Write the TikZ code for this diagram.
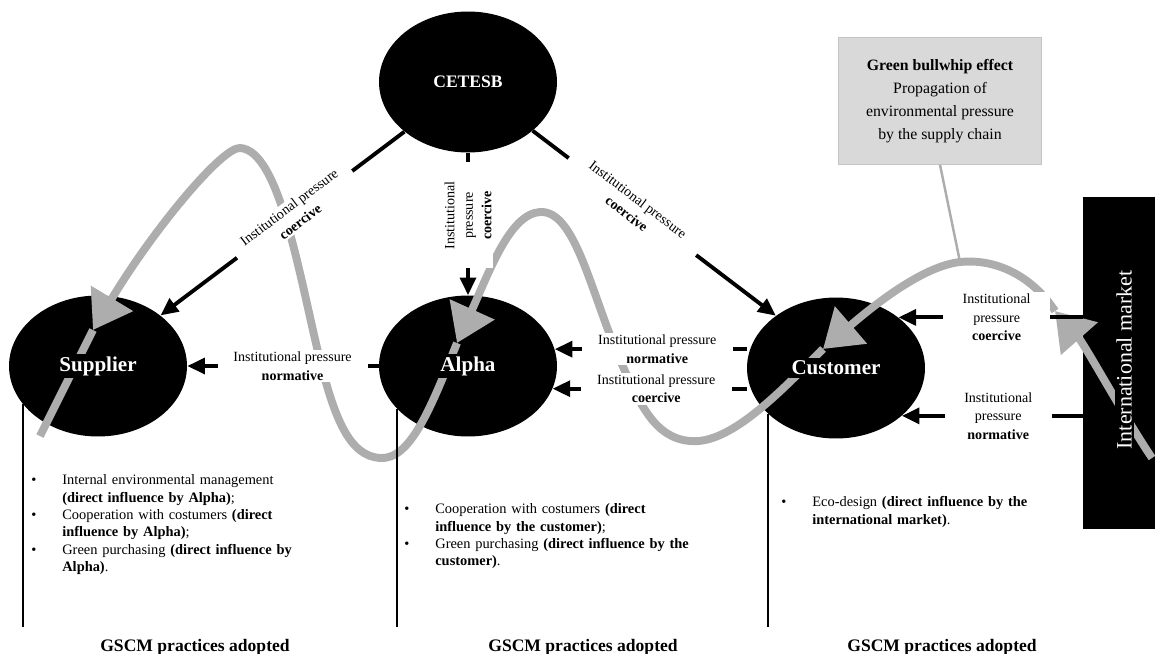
\documentclass[tikz,border=0pt]{standalone}
\usepackage{fontspec}
\setmainfont{Liberation Serif}
\usetikzlibrary{arrows.meta,shapes.geometric}
\definecolor{bwGray}{HTML}{ADADAD}
\definecolor{bwBoxFill}{HTML}{D9D9D9}
\definecolor{bwBoxLine}{HTML}{C4C4C4}
\newcommand{\gitem}{\par\hangindent=0.62cm\hangafter=1\noindent\makebox[0.62cm][l]{\textbullet}}
\tikzset{
  actor/.style={ellipse, fill=black, minimum width=3.56cm, minimum height=2.82cm, inner sep=0pt},
  actorname/.style={fill=black, text=white, inner sep=1.5pt, font=\fontsize{12}{14}\selectfont\bfseries},
  pressarrow/.style={line width=2.2pt, -{Triangle[length=10pt,width=9pt]}},
  plabel/.style={fill=white, inner sep=1pt, align=center, font=\fontsize{8}{10.5}\selectfont},
  bwarrow/.style={bwGray, line width=4.5pt, -{Triangle[length=21pt,width=27pt]}},
  bwline/.style={bwGray, line width=4.5pt},
  practline/.style={line width=1pt},
  practices/.style={anchor=north west, inner sep=0pt, text width=6.2cm, align=left, font=\fontsize{8.2}{9.9}\selectfont},
  gscm/.style={anchor=base, inner sep=0pt, font=\fontsize{10}{12}\selectfont\bfseries}
}

\begin{document}
\begin{tikzpicture}[x=0.02cm, y=-0.02cm]
\useasboundingbox (0,0) rectangle (1155,653);
\node[actor, text=white, font=\fontsize{10}{12}\selectfont\bfseries] (cetesb) at (468,82) {CETESB};
\node[actor] (supplier) at (98,366) {};
\node[actor] (alpha) at (468,366) {};
\node[actor] (customer) at (836,368) {};
\node[fill=black, minimum width=1.44cm, minimum height=6.64cm, inner sep=0pt] (intlbox) at (1119,363) {};
\node[fill=bwBoxFill, draw=bwBoxLine, minimum width=4.06cm, minimum height=2.54cm, align=center, font=\fontsize{9}{13}\selectfont] (bwbox) at (940,101) {\textbf{Green bullwhip effect}\\Propagation of\\environmental pressure\\by the supply chain};

\draw[bwarrow] (1152,458) .. controls (1125,418) and (1085,345) .. (1055,311);
\draw[bwarrow] (1055,311) .. controls (1035,280) and (1000,258) .. (960,262) coordinate (bwtop) .. controls (925,266) and (880,300) .. (823,349);
\draw[bwarrow] (823,349) .. controls (780,392) and (730,445) .. (690,441) .. controls (655,438) and (640,405) .. (620,360) .. controls (590,290) and (575,210) .. (540,212) .. controls (510,214) and (490,270) .. (457,343);
\draw[bwarrow] (457,343) .. controls (430,410) and (410,460) .. (380,458) .. controls (350,456) and (335,420) .. (320,360) .. controls (300,280) and (280,150) .. (240,148) .. controls (222,147) and (153,230) .. (93,330);
\draw[bwline] (93,330) -- (40,436);
\draw[bwGray, line width=1.4pt] (bwbox.south) -- (bwtop);

\draw[pressarrow] (cetesb.218) -- node[plabel, sloped, pos=0.45, minimum width=2.88cm] (coersup) {Institutional pressure\\\textbf{coercive}} (supplier.39);
\draw[pressarrow] (cetesb.south) -- node[plabel, rotate=90, pos=0.44, minimum width=2.12cm] (coeralpha) {Institutional\\pressure\\\textbf{coercive}} (cetesb.south |- alpha.north);
\draw[pressarrow] (cetesb.-37) -- node[plabel, sloped, pos=0.41, minimum width=3.2cm] (coercus) {Institutional pressure\\\textbf{coercive}} (customer.139);
\draw[pressarrow] (alpha.west) -- node[plabel, pos=0.45, minimum width=3cm] (normsup) {Institutional pressure\\\textbf{normative}} (supplier.east);
\draw[pressarrow] (customer.west |- alpha.11) -- node[plabel, pos=0.466, minimum width=3.02cm] (normalpha) {Institutional pressure\\\textbf{normative}} (alpha.11);
\draw[pressarrow] (customer.west |- alpha.-15) -- node[plabel, pos=0.466, minimum width=3.02cm] (coeralphab) {Institutional pressure\\\textbf{coercive}} (alpha.-15);
\draw[pressarrow] (intlbox.west |- customer.39) -- node[plabel, pos=0.467, minimum width=2.14cm] (coerintl) {Institutional\\pressure\\\textbf{coercive}} (customer.39);
\draw[pressarrow] (intlbox.west |- customer.-36) -- node[plabel, pos=0.467, minimum width=2.14cm] (normintl) {Institutional\\pressure\\\textbf{normative}} (customer.-36);

\node[actorname] (suppliername) at (supplier) {Supplier};
\node[actorname] (alphaname) at (alpha) {Alpha};
\node[actorname] (customername) at (customer) {Customer};
\node[fill=black, text=white, rotate=90, inner sep=1pt, font=\fontsize{12.5}{14}\selectfont] (intlname) at (1124,360) {International market};

\coordinate (listfoot) at (0,627);
\draw[practline] (supplier.207) -- (supplier.207 |- listfoot);
\draw[practline] (alpha.211) -- (alpha.211 |- listfoot);
\draw[practline] (customer.214) -- (customer.214 |- listfoot);

\node[practices] (suplist) at (31,467) {\gitem Internal environmental management\newline \textbf{(direct influence by Alpha)};\gitem Cooperation with costumers \textbf{(direct\newline influence by Alpha)};\gitem Green purchasing \textbf{(direct influence by\newline Alpha)}.\par};
\node[practices] (alphalist) at (404,496) {\gitem Cooperation with costumers \textbf{(direct\newline influence by the customer)};\gitem Green purchasing \textbf{(direct influence by the\newline customer)}.\par};
\node[practices] (cuslist) at (781,489) {\gitem Eco-design \textbf{(direct influence by the\newline international market)}.\par};

\node[gscm] (gscmsup) at (195,651) {GSCM practices adopted};
\node[gscm] (gscmalpha) at (583,651) {GSCM practices adopted};
\node[gscm] (gscmcus) at (942,651) {GSCM practices adopted};
\end{tikzpicture}
\end{document}
